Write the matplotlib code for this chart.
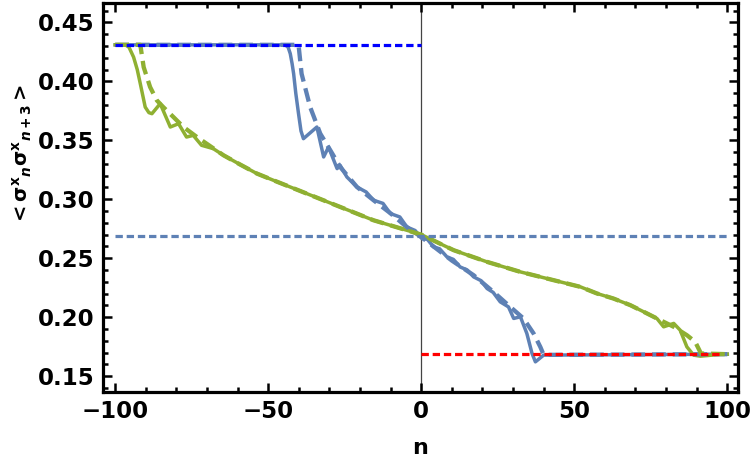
import matplotlib
matplotlib.use("Agg")
import matplotlib.pyplot as plt
from matplotlib.ticker import MultipleLocator

# correlator <sigma^x_n sigma^x_n+3>
# blue: early time, green: later time (solid = exact, dashed = approx)
blue_n = [-100, -44.5, -43.5, -42.8, -42.2, -41.7, -41, -40.1, -39.3, -38.5, -34.1, -31.9,
          -30.3, -27.5, -26.5, -24.3, -21, -18, -15.6, -12.5, -10.1, -7, -4.7, -2, 0.2,
          2, 4, 6, 8.4, 10.5, 12.7, 15, 17.1, 19.5, 21.5, 23.5, 25.8, 28.5,
          30.2, 32.4, 34.5, 36.2, 37.3, 40, 100]
blue_y = [0.431, 0.431, 0.429, 0.4235, 0.415, 0.4065, 0.390, 0.3726, 0.358, 0.3514, 0.3613, 0.3359,
          0.3443, 0.3260, 0.3288, 0.3189, 0.3104, 0.3062, 0.2992, 0.2965, 0.2879, 0.2850, 0.2765,
          0.2735, 0.2667, 0.2660, 0.2596, 0.2580, 0.2511, 0.2490, 0.2426, 0.2400, 0.2342, 0.2310,
          0.2243, 0.2210, 0.2130, 0.2087, 0.1989, 0.2003, 0.1862, 0.1692, 0.1621, 0.1678, 0.1686]

blue_dash_n = [-100, -40.1, -39.1, -36.3, -33, -29.7, -26.5, -21, -15.6, -10, -5, 0,
               5, 10, 17.1, 23.6, 29.1, 33.4, 36.7, 38.9, 40, 100]
blue_dash_y = [0.431, 0.431, 0.4065, 0.3782, 0.3557, 0.3415, 0.3274, 0.3104, 0.2992, 0.2880,
               0.2770, 0.2680, 0.2580, 0.2480, 0.2356, 0.2214, 0.2087, 0.1989, 0.1862,
               0.1748, 0.1680, 0.1686]

green_n = [-100, -96.7, -95.5, -94, -92.8, -91.8, -90.2, -89, -88, -85.3, -82, -79.3, -76.7,
           -74.5, -71.8, -68, -64.6, -59.2, -53.7, -48.3, -42.8, -37.4, -26.5, -15.6, -4.7, 0,
           10.6, 21.5, 32.4, 43.2, 52, 57.4, 62.8, 68.3, 73.8, 77, 79.2, 82.5, 84.6,
           86.8, 89, 91.2, 97.7, 100]
green_y = [0.431, 0.431, 0.429, 0.4206, 0.410, 0.3980, 0.3782, 0.3735, 0.3726, 0.3811, 0.3613, 0.3641,
           0.3528, 0.3542, 0.3458, 0.3430, 0.3373, 0.3295, 0.3218, 0.3161, 0.3104, 0.3048, 0.2935,
           0.2822, 0.2737, 0.2700, 0.2568, 0.2469, 0.2384, 0.2314, 0.2257, 0.2201, 0.2158, 0.2102,
           0.2031, 0.1989, 0.1918, 0.1947, 0.1890, 0.1748, 0.1678, 0.1669, 0.1684, 0.1686]

green_dash_n = [-100, -91.8, -90.7, -88.6, -86.4, -84.3, -81, -77.7, -73.3, -64.6, -59.2,
                -53.7, -48.3, -42.8, -37.4, -26.5, -15.6, -4.7, 0, 10.6, 21.5, 32.4,
                43.2, 52, 57.4, 62.8, 68.3, 73.8, 77, 82.5, 86.8, 89.5, 90.6, 91.4, 100]
green_dash_y = [0.431, 0.431, 0.4121, 0.3952, 0.3839, 0.3782, 0.3698, 0.3613, 0.3528, 0.3373, 0.3295,
                0.3218, 0.3161, 0.3104, 0.3048, 0.2935, 0.2822, 0.2737, 0.2700, 0.2568, 0.2469, 0.2384,
                0.2314, 0.2257, 0.2201, 0.2158, 0.2102, 0.2031, 0.1989, 0.1918, 0.1847, 0.1791,
                0.1734, 0.1692, 0.1686]

# reference levels
top_level = 0.431
mid_level = 0.2685
low_level = 0.1690

steel = "#5E81B5"
green = "#8FB032"

plt.rcParams['font.family'] = ['DejaVu Sans']
plt.rcParams['mathtext.fontset'] = 'custom'
plt.rcParams['mathtext.bf'] = 'DejaVu Sans:bold'
plt.rcParams['mathtext.bfit'] = 'DejaVu Sans:bold:italic'

fig = plt.figure(figsize=(7.5, 4.75), dpi=100)
ax = fig.add_axes([0.1373, 0.1747, 0.8467, 0.819])

ax.axvline(0, color="#444444", lw=0.9, zorder=1)

ax.plot(blue_n, blue_y, color=steel, lw=2.5, zorder=2)
ax.plot(green_n, green_y, color=green, lw=2.5, zorder=2)
ax.plot(blue_dash_n, blue_dash_y, color=steel, lw=3.1, dashes=(3.2, 1.6), zorder=3)
ax.plot(green_dash_n, green_dash_y, color=green, lw=3.1, dashes=(3.2, 1.6), zorder=3)

ax.plot([-100, 0], [top_level, top_level], color="blue", lw=2.3, dashes=(2.3, 1.2), zorder=4)
ax.plot([-100, 100], [mid_level, mid_level], color=steel, lw=2.3, dashes=(2.3, 1.2), zorder=4)
ax.plot([0, 98], [low_level, low_level], color="red", lw=2.3, dashes=(2.3, 1.2), zorder=4)

ax.set_xlim(-104, 103.5)
ax.set_ylim(0.1365, 0.4665)

ax.xaxis.set_major_locator(MultipleLocator(50))
ax.xaxis.set_minor_locator(MultipleLocator(10))
ax.yaxis.set_major_locator(MultipleLocator(0.05))
ax.yaxis.set_minor_locator(MultipleLocator(0.01))
ax.yaxis.set_major_formatter(lambda v, p: "%.2f" % v)

for s in ax.spines.values():
    s.set_linewidth(2.3)
ax.tick_params(which="both", direction="in", top=True, right=True, width=1.8)
ax.tick_params(which="major", length=6.5, labelsize=16.5, pad=6)
ax.tick_params(which="minor", length=3.5)
for lab in ax.get_xticklabels() + ax.get_yticklabels():
    lab.set_fontweight("bold")

ax.set_xlabel("n", fontsize=16, fontweight="bold")
ax.xaxis.set_label_coords(0.5, -0.118)
ax.set_ylabel(r"$\mathbf{<σ^x{}_{\mathbfit{n}}σ^x{}_{\mathbfit{n}+3}>}$", fontsize=14)
ax.yaxis.set_label_coords(-0.108, 0.61)

fig.savefig("out.png", dpi=100)
